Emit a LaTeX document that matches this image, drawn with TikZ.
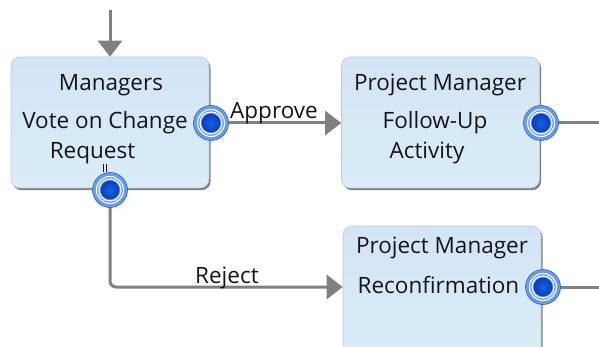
\documentclass[tikz,border=0pt]{standalone}
\usepackage{fontspec}
\setmainfont{Open Sans}
\usetikzlibrary{arrows.meta}
\definecolor{boxtop}{HTML}{D3E4F5}
\definecolor{boxbot}{HTML}{D9EDF8}
\definecolor{boxedge}{HTML}{B9CCDD}
\definecolor{wire}{HTML}{808080}
\definecolor{portout}{HTML}{3A7AE6}
\definecolor{portrim}{HTML}{6E9FEA}
\definecolor{portin}{HTML}{1A5FE6}
\definecolor{portindark}{HTML}{0840B8}
\definecolor{ink}{HTML}{15121E}
\tikzset{
  actbox/.style={rectangle, rounded corners=9pt, minimum width=198pt, minimum height=131pt,
    inner sep=0pt, draw=boxedge, line width=0.6pt, top color=boxtop, bottom color=boxbot,
    preaction={fill=black!50, transform canvas={shift={(1.6pt,-2.2pt)}}}},
  lbl/.style={anchor=base, text=ink, inner sep=0pt, font=\fontsize{22.5}{26}\selectfont},
  wirel/.style={draw=wire, line width=3pt},
  arr/.style={wirel, -{Triangle[length=16pt,width=24pt]}},
  port/.style={circle, minimum size=35pt, inner sep=0pt, draw=portout!80!black, line width=0.6pt,
    inner color=portout, outer color=portrim,
    path picture={
      \draw[white, line width=1.2pt] (path picture bounding box.center) circle[radius=13.5pt];
      \draw[white, line width=1.2pt] (path picture bounding box.center) circle[radius=11pt];
      \shade[inner color=portin, outer color=portindark] (path picture bounding box.center) circle[radius=9.3pt];
    }},
}
\begin{document}
\begin{tikzpicture}[x=1pt,y=-1pt]
\useasboundingbox (0,0) rectangle (599,347);
\clip (0,0) rectangle (599,347);
\fill[white] (0,0) rectangle (599,347);

% boxes
\node[actbox] (b1) at (110,122.5) {};
\node[actbox] (b2) at (440.5,122.5) {};
\node[actbox] (b3) at (442,291.5) {};

% labels
\node[lbl] (t1a) at (111,91) {Managers};
\node[lbl] (t1b) at (105,129) {Vote on Change};
\node[lbl] (t1c) at (92.5,159) {Request};
\node[lbl] (t2a) at (440,91) {Project Manager};
\node[lbl] (t2b) at (435,129) {Follow-Up};
\node[lbl] (t2c) at (427,159) {Activity};
\node[lbl] (t3a) at (442,254) {Project Manager};
\node[lbl] (t3b) at (438.5,293) {Reconfirmation};

% small marks
\draw[ink, line width=0.9pt] (103,164) -- (103,172) (106.5,164) -- (106.5,172);

% ports (coordinates)
\coordinate (c1) at (211,123);
\coordinate (c2) at (110,190);
\coordinate (c3) at (541,123);
\coordinate (c4) at (543,287);
\coordinate (top) at (110,10);
\coordinate (e3) at (599,123);
\coordinate (e4) at (599,287);

% connectors
\draw[arr] (top) -- (b1.north);
\draw[arr] (c1) -- (c1 -| b2.west);
\draw[arr, rounded corners=6pt] (c2) -- (c2 |- c4) -- (c4 -| b3.west);
\draw[wirel] (c3) -- (e3);
\draw[wirel] (c4) -- (e4);

% connector labels
\node[lbl, anchor=base west] (la) at (230,119) {Approve};
\node[lbl, anchor=base west] (lr) at (195,283) {Reject};

% ports
\node[port] (p1) at (c1) {};
\node[port] (p2) at (c2) {};
\node[port] (p3) at (c3) {};
\node[port] (p4) at (c4) {};
\end{tikzpicture}
\end{document}
